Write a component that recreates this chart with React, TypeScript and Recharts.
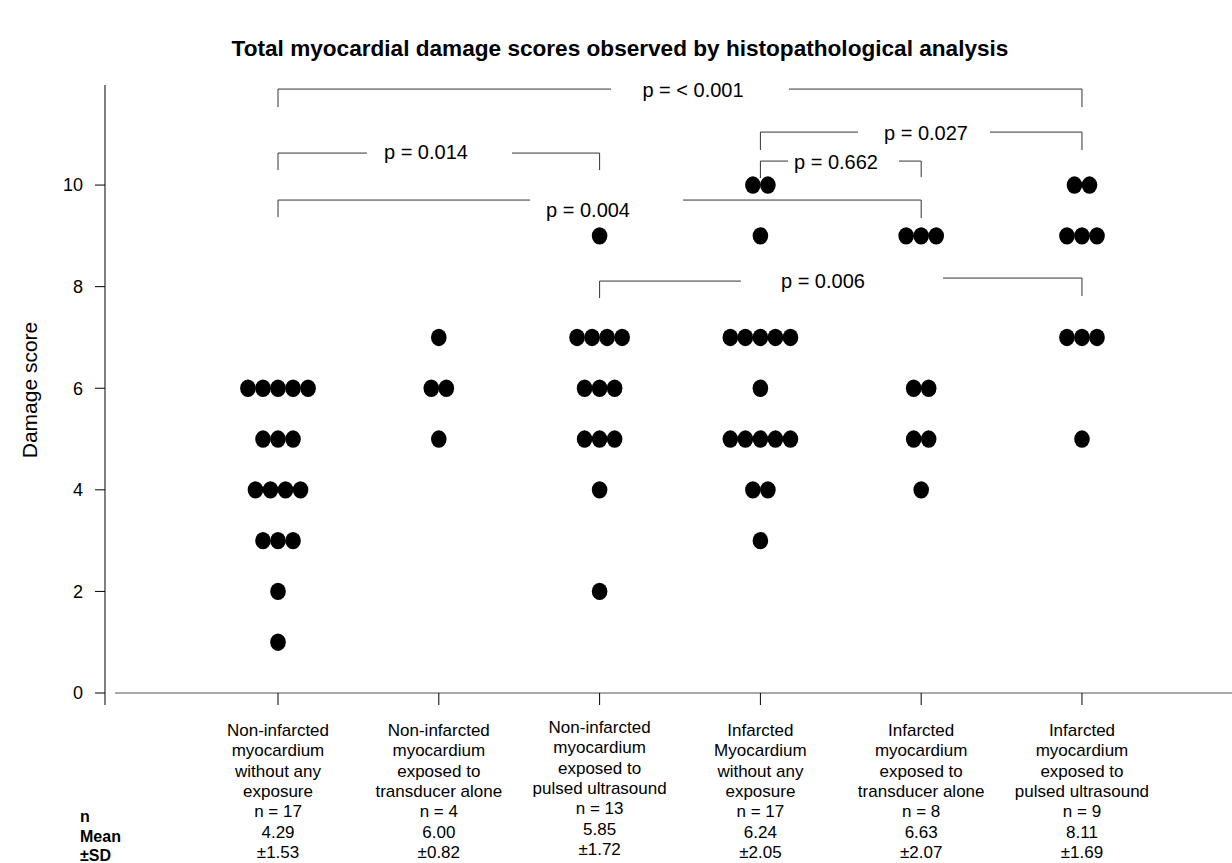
import React from "react";
import { ScatterChart, Scatter, XAxis, YAxis, ReferenceLine } from "recharts";

const FONT = '"Liberation Sans", Arial, Helvetica, sans-serif';

// group labels under the x axis
const groupLines = [
  ["Non-infarcted", "myocardium", "without any", "exposure"],
  ["Non-infarcted", "myocardium", "exposed to", "transducer alone"],
  ["Non-infarcted", "myocardium", "exposed to", "pulsed ultrasound"],
  ["Infarcted", "Myocardium", "without any", "exposure"],
  ["Infarcted", "myocardium", "exposed to", "transducer alone"],
  ["Infarcted", "myocardium", "exposed to", "pulsed ultrasound"],
];
const nLabels = ["n = 17", "n = 4", "n = 13", "n = 17", "n = 8", "n = 9"];
const meanLabels = ["4.29", "6.00", "5.85", "6.24", "6.63", "8.11"];
const sdLabels = ["±1.53", "±0.82", "±1.72", "±2.05", "±2.07", "±1.69"];

// individual damage scores per group
const scores1 = [6, 6, 6, 6, 6, 5, 5, 5, 4, 4, 4, 4, 3, 3, 3, 2, 1];
const scores2 = [7, 6, 6, 5];
const scores3 = [9, 7, 7, 7, 7, 6, 6, 6, 5, 5, 5, 4, 2];
const scores4 = [10, 10, 9, 7, 7, 7, 7, 7, 6, 5, 5, 5, 5, 5, 4, 4, 3];
const scores5 = [9, 9, 9, 6, 6, 5, 5, 4];
const scores6 = [10, 10, 9, 9, 9, 7, 7, 7, 5];
const allScores = [scores1, scores2, scores3, scores4, scores5, scores6];

const yTicks = [0, 2, 4, 6, 8, 10];
const xTicks = [1, 2, 3, 4, 5, 6];

// significance brackets (group positions / score units)
const brackets = [
  { label: "p = < 0.001", from: 1, to: 6, level: 11.89, dropL: 11.535, dropR: 11.535, gap: [3.071, 4.178], tx: 3.581, ty: 11.87 },
  { label: "p = 0.014", from: 1, to: 3, level: 10.63, dropL: 10.295, dropR: 10.295, gap: [1.553, 2.455], tx: 1.92, ty: 10.65 },
  { label: "p = 0.004", from: 1, to: 5, level: 9.705, dropL: 9.37, dropR: 9.35, gap: [2.567, 3.519], tx: 2.928, ty: 9.508 },
  { label: "p = 0.027", from: 4, to: 6, level: 11.043, dropL: 10.689, dropR: 10.689, gap: [4.607, 5.428], tx: 5.03, ty: 11.024 },
  { label: "p = 0.662", from: 4, to: 5, level: 10.472, dropL: 10.138, dropR: 10.157, gap: [4.172, 4.862], tx: 4.47, ty: 10.453 },
  { label: "p = 0.006", from: 3, to: 6, level: 8.11, levelR: 8.169, dropL: 7.776, dropR: 7.815, gap: [3.879, 5.136], tx: 4.389, ty: 8.11 },
];

const DOT_STEP = 0.0935;
const X_DOMAIN: [number, number] = [-0.076, 6.933];
const Y_DOMAIN: [number, number] = [-0.236, 11.97];

function layoutDots(scores: number[], group: number) {
  const counts = new Map<number, number>();
  scores.forEach((s) => counts.set(s, (counts.get(s) ?? 0) + 1));
  const dots: { x: number; y: number }[] = [];
  counts.forEach((k, v) => {
    for (let j = 0; j < k; j++) dots.push({ x: group + (j - (k - 1) / 2) * DOT_STEP, y: v });
  });
  return dots;
}

const dotData = allScores.flatMap((s, i) => layoutDots(s, i + 1));
const labelData = brackets.map((b) => ({ x: b.tx, y: b.ty, label: b.label }));

const segments = brackets.flatMap((b) => {
  const lr = b.levelR ?? b.level;
  return [
    [{ x: b.from, y: b.dropL }, { x: b.from, y: b.level }],
    [{ x: b.from, y: b.level }, { x: b.gap[0], y: b.level }],
    [{ x: b.gap[1], y: lr }, { x: b.to, y: lr }],
    [{ x: b.to, y: lr }, { x: b.to, y: b.dropR }],
  ];
});

function CategoryTick(props: any) {
  const { x, payload } = props;
  const i = Math.round(payload.value) - 1;
  const lines = [...groupLines[i], nLabels[i], meanLabels[i], sdLabels[i]];
  const shift = i === 2 ? -3 : 0;
  return (
    <text x={x} textAnchor="middle" fontFamily={FONT} fontSize={17} fill="#000">
      {lines.map((l, k) => (
        <tspan key={k} x={x} y={736 + shift + k * 20.3}>
          {l}
        </tspan>
      ))}
    </text>
  );
}

const Ellipse = (props: any) => <ellipse cx={props.cx} cy={props.cy} rx={7.8} ry={8.7} fill="#000" />;

const PLabel = (props: any) => (
  <text x={props.cx} y={props.cy} dy="0.35em" textAnchor="middle" fontFamily={FONT} fontSize={20} fill="#000">
    {props.payload.label}
  </text>
);

export default function App() {
  return (
    <div style={{ position: "absolute", left: 0, top: 0, width: 1232, height: 863, background: "#fff" }}>
      <ScatterChart width={1232} height={863} margin={{ top: 85, right: 0, bottom: 0, left: 0 }}>
        <XAxis
          type="number"
          dataKey="x"
          domain={X_DOMAIN}
          ticks={xTicks}
          interval={0}
          axisLine={false}
          tickLine={false}
          height={158}
          tick={<CategoryTick />}
        />
        <YAxis
          type="number"
          dataKey="y"
          domain={Y_DOMAIN}
          ticks={yTicks}
          interval={0}
          width={105}
          tickSize={10}
          tickMargin={12}
          axisLine={{ stroke: "#000" }}
          tickLine={{ stroke: "#000" }}
          tick={{ fontFamily: FONT, fontSize: 18, fill: "#000" }}
        />
        <ReferenceLine
          segment={[{ x: -0.0137, y: 0 }, { x: X_DOMAIN[1], y: 0 }]}
          stroke="#555"
          strokeWidth={1.2}
          ifOverflow="visible"
        />
        {xTicks.map((t) => (
          <ReferenceLine
            key={"xt" + t}
            segment={[{ x: t, y: 0 }, { x: t, y: Y_DOMAIN[0] }]}
            stroke="#000"
            ifOverflow="visible"
          />
        ))}
        {segments.map((s, i) => (
          <ReferenceLine key={"br" + i} segment={s} stroke="#333" strokeWidth={1} ifOverflow="visible" />
        ))}
        <Scatter data={dotData} shape={Ellipse} isAnimationActive={false} />
        <Scatter data={labelData} shape={PLabel} isAnimationActive={false} />
      </ScatterChart>
      <svg width={1232} height={863} style={{ position: "absolute", left: 0, top: 0, pointerEvents: "none" }}>
        <text x={620} y={56} textAnchor="middle" fontFamily={FONT} fontSize={22.6} fontWeight="bold" fill="#000">
          Total myocardial damage scores observed by histopathological analysis
        </text>
        <text
          x={0}
          y={0}
          transform="translate(37 390) rotate(-90)"
          textAnchor="middle"
          fontFamily={FONT}
          fontSize={21}
          fill="#000"
        >
          Damage score
        </text>
        <g fontFamily={FONT} fontSize={16} fontWeight="bold" fill="#000">
          <text x={80} y={822}>n</text>
          <text x={80} y={842}>Mean</text>
          <text x={80} y={861}>±SD</text>
        </g>
      </svg>
    </div>
  );
}
